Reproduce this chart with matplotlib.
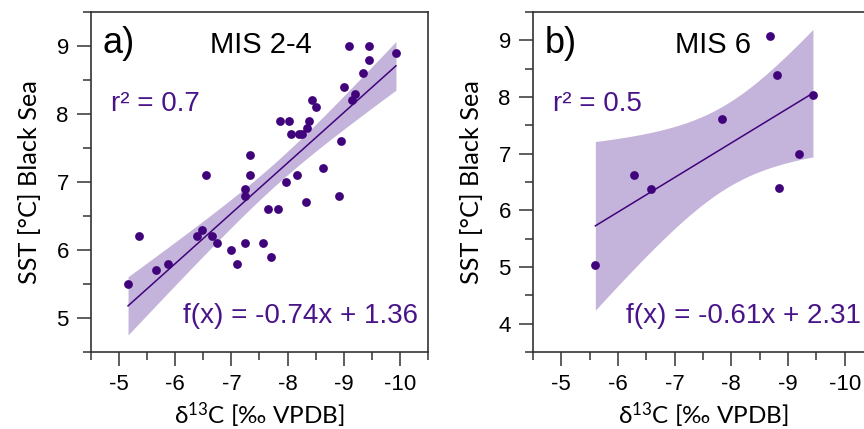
import numpy as np
import matplotlib.pyplot as plt
from matplotlib.ticker import MultipleLocator

plt.rcParams['axes.unicode_minus'] = False

# d13C vs. SST, glacial stages MIS 2-4
d13c_mis24 = [-9.1, -9.45, -9.93, -9.45, -9.35, -9.0, -9.2, -9.15, -8.43, -8.5,
              -7.86, -8.02, -8.38, -8.35, -8.06, -8.2, -8.25, -8.96, -7.34, -8.63,
              -6.54, -7.34, -8.17, -7.98, -7.25, -7.24, -8.91, -8.32, -7.66, -7.83,
              -5.36, -6.47, -6.38, -6.65, -6.75, -7.0, -7.25, -7.56, -7.1, -7.7,
              -5.66, -5.88, -5.16]
sst_mis24 = [9.0, 9.0, 8.9, 8.8, 8.6, 8.4, 8.3, 8.2, 8.2, 8.1,
             7.9, 7.9, 7.9, 7.8, 7.7, 7.7, 7.7, 7.6, 7.4, 7.2,
             7.1, 7.1, 7.1, 7.0, 6.9, 6.8, 6.8, 6.7, 6.6, 6.6,
             6.2, 6.3, 6.2, 6.2, 6.1, 6.0, 6.1, 6.1, 5.8, 5.9,
             5.7, 5.8, 5.5]

# MIS 6
d13c_mis6 = [-5.6, -6.29, -6.58, -7.84, -8.68, -8.8, -8.85, -9.19, -9.44]
sst_mis6 = [5.03, 6.62, 6.37, 7.62, 9.07, 8.39, 6.4, 7.0, 8.03]

# linear fits (published coefficients and r2)
slope_mis24, icpt_mis24, r2_mis24 = -0.74, 1.36, 0.7
slope_mis6, icpt_mis6, r2_mis6 = -0.61, 2.31, 0.5

# Student t quantiles (95 %, two-sided) for n-2 degrees of freedom
t_mis24 = 2.0195
t_mis6 = 2.3646

dot_color = '#41037c'
band_color = '#c4b3da'
text_color = '#4a1489'
sans = ['Liberation Sans', 'DejaVu Sans']
label_font = ['Lato', 'DejaVu Sans']


def conf_band(x, y, slope, icpt, t):
    x = np.asarray(x)
    y = np.asarray(y)
    n = len(x)
    resid = y - (slope * x + icpt)
    s = np.sqrt(np.sum(resid ** 2) / (n - 2))
    xx = np.linspace(x.min(), x.max(), 200)
    yy = slope * xx + icpt
    sxx = np.sum((x - x.mean()) ** 2)
    half = t * s * np.sqrt(1 / n + (xx - x.mean()) ** 2 / sxx)
    return xx, yy, yy - half, yy + half


def panel(ax, x, y, slope, icpt, r2, t, letter, title, ylim, eq_x, eq_ha):
    xx, yy, lo, hi = conf_band(x, y, slope, icpt, t)
    ax.fill_between(xx, lo, hi, color=band_color, lw=0, zorder=1)
    ax.plot(xx, yy, color=dot_color, lw=1.1, zorder=2)
    ax.scatter(x, y, s=40, color=dot_color, lw=0, zorder=3)

    ax.set_xlim(-4.5, -10.5)
    ax.set_ylim(*ylim)
    ax.xaxis.set_major_locator(MultipleLocator(1))
    ax.xaxis.set_minor_locator(MultipleLocator(0.5))
    ax.yaxis.set_major_locator(MultipleLocator(1))
    ax.yaxis.set_minor_locator(MultipleLocator(0.5))
    ax.tick_params(which='major', direction='out', length=10, width=1.1,
                   labelsize=16, pad=6, color='#333333')
    ax.tick_params(which='minor', direction='out', length=5.5, width=1.1,
                   color='#333333')
    for lbl in ax.get_xticklabels() + ax.get_yticklabels():
        lbl.set_family(sans)
    for sp in ax.spines.values():
        sp.set_linewidth(1.2)
        sp.set_color('#333333')

    ax.set_xlabel(r'δ$\mathregular{^{13}}$C [‰ VPDB]', fontsize=17.5,
                  family=label_font, labelpad=3.5)
    ax.set_ylabel('SST [°C] Black Sea', fontsize=18.2, family=label_font,
                  labelpad=11)

    ax.text(0.035, 0.879, letter, transform=ax.transAxes, fontsize=26, family=sans)
    ax.text(title[1], 0.879, title[0], transform=ax.transAxes, fontsize=21,
            family=sans, ha='center')
    ax.text(0.058, 0.709, f'r² = {r2}', transform=ax.transAxes, fontsize=20,
            family=sans, color=text_color)
    ax.text(eq_x, 0.085, f'f(x) = {slope}x + {icpt}', transform=ax.transAxes,
            fontsize=20, family=sans, color=text_color, ha=eq_ha)


fig = plt.figure(figsize=(8.64, 4.29), dpi=100)
ax1 = fig.add_axes([0.1053, 0.1795, 0.390, 0.7925])
ax2 = fig.add_axes([0.6169, 0.1795, 0.3935, 0.7925])

panel(ax1, d13c_mis24, sst_mis24, slope_mis24, icpt_mis24, r2_mis24, t_mis24,
      'a)', ('MIS 2-4', 0.505), (4.5, 9.5), 0.970, 'right')
panel(ax2, d13c_mis6, sst_mis6, slope_mis6, icpt_mis6, r2_mis6, t_mis6,
      'b)', ('MIS 6', 0.53), (3.5, 9.5), 0.2735, 'left')

plt.savefig('out.png', dpi=100)
